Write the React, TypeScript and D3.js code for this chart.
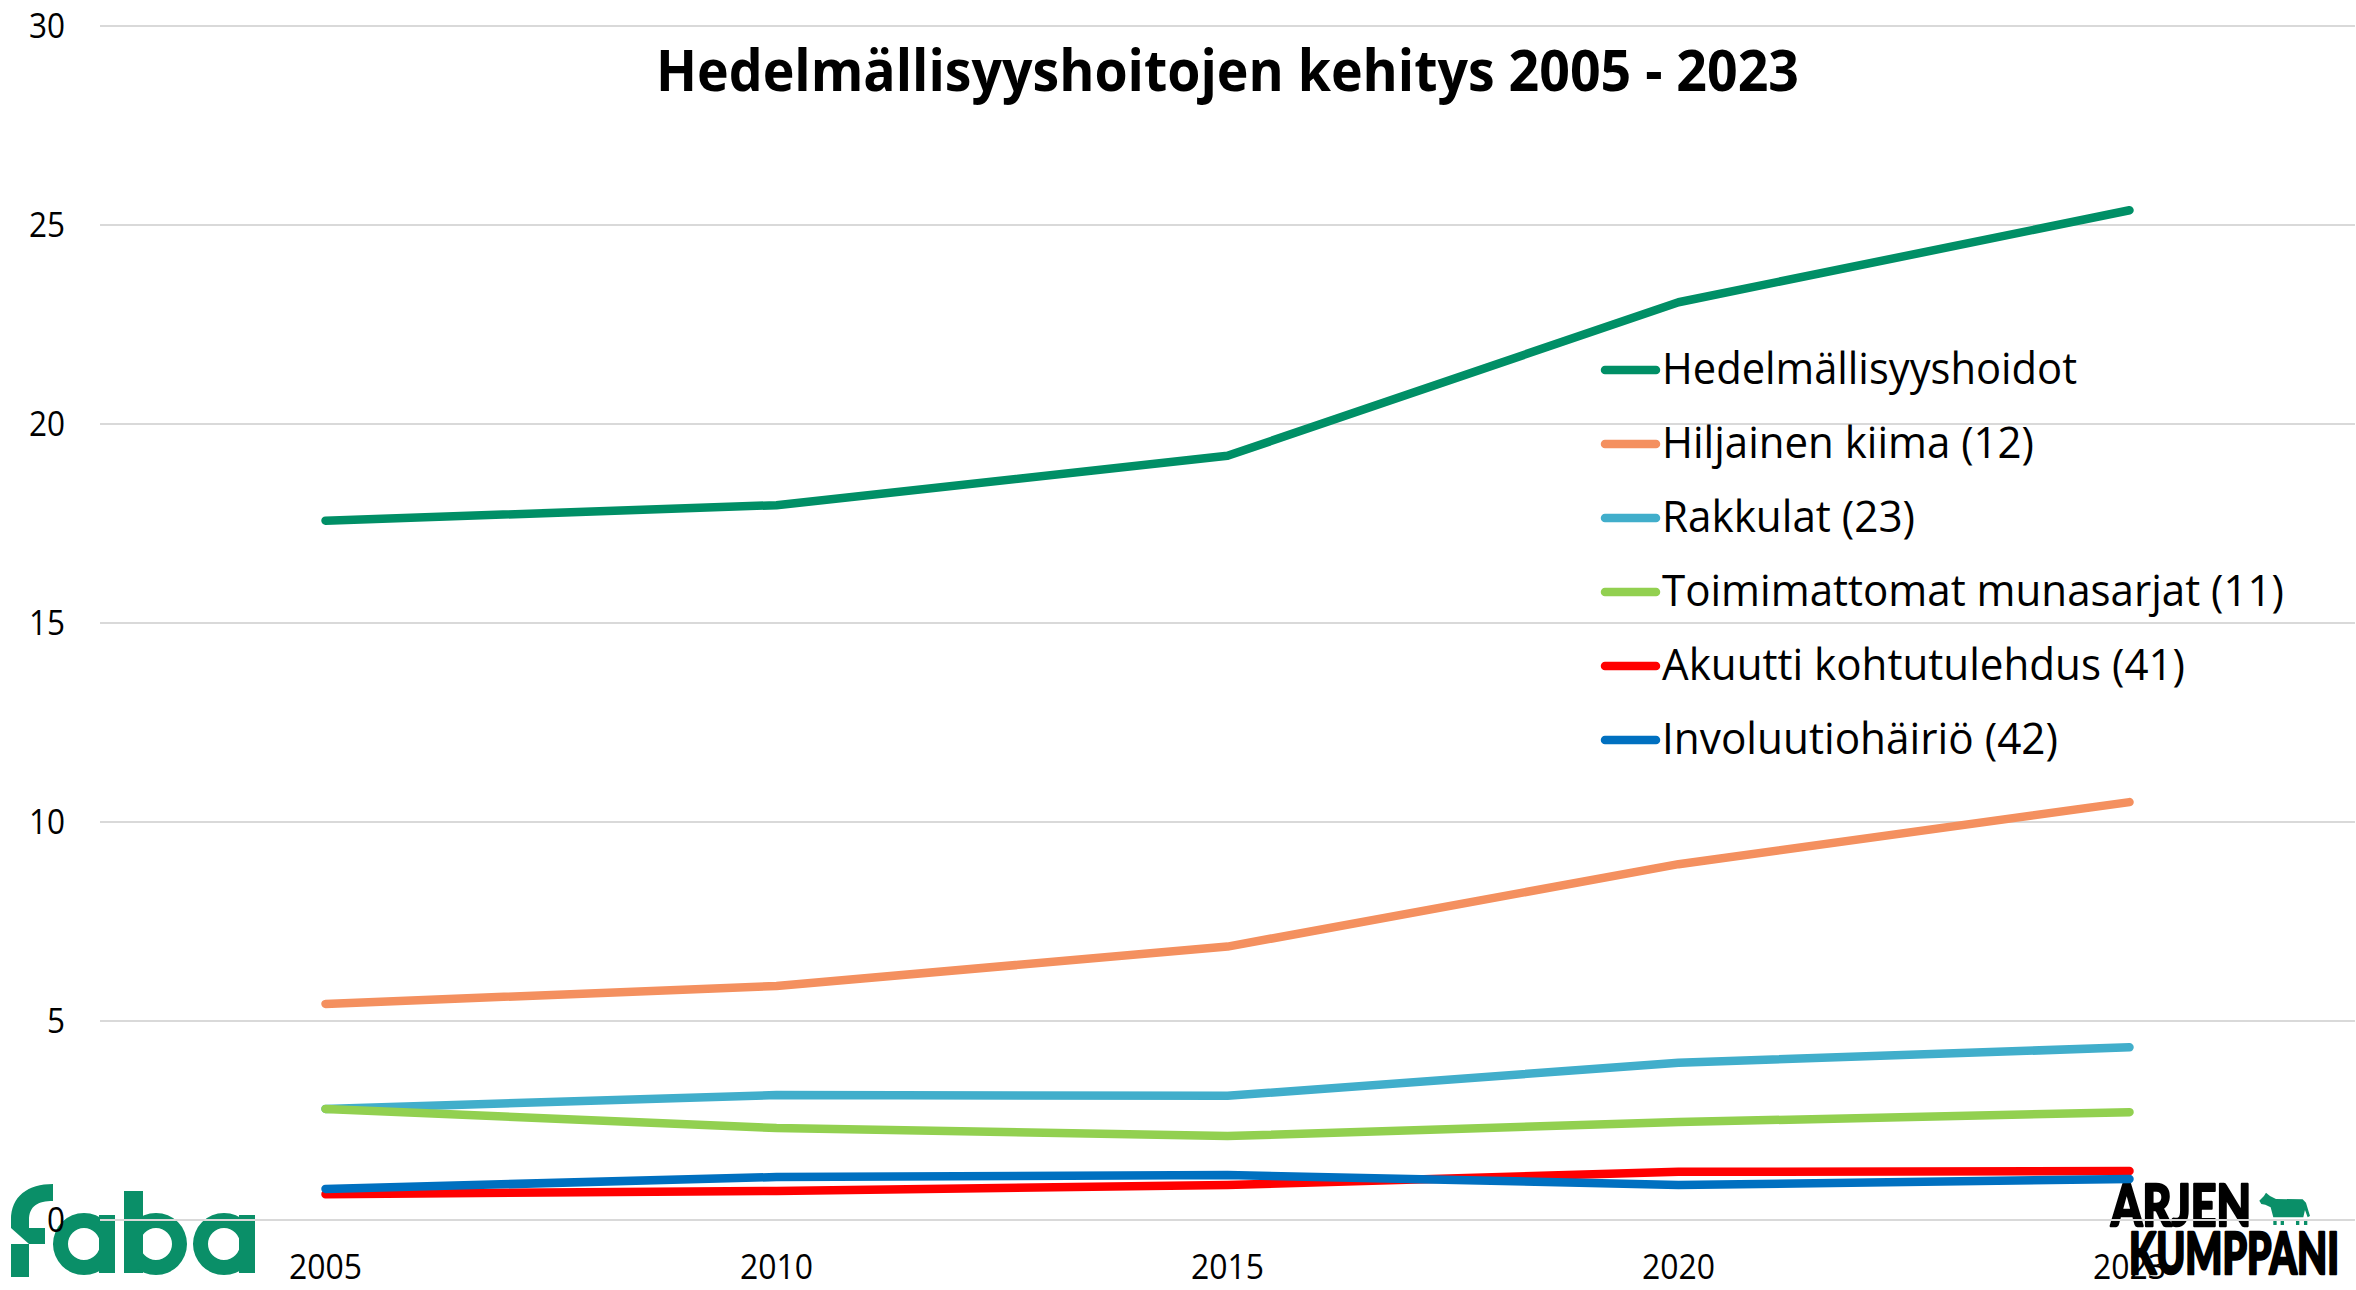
import React from "react";
import * as d3 from "d3";

const years = ["2005", "2010", "2015", "2020", "2023"];
const yTicks = [0, 5, 10, 15, 20, 25, 30];
const hedelmallisyyshoidot = [17.57, 17.96, 19.2, 23.06, 25.37];
const hiljainenKiima = [5.43, 5.88, 6.87, 8.94, 10.5];
const rakkulat = [2.79, 3.14, 3.12, 3.95, 4.34];
const toimimattomat = [2.79, 2.31, 2.11, 2.46, 2.71];
const akuutti = [0.65, 0.73, 0.88, 1.21, 1.23];
const involuutio = [0.78, 1.08, 1.13, 0.88, 1.03];

const seriesList = [
  { name: "Hedelmällisyyshoidot", values: hedelmallisyyshoidot, color: "#008F66", w: 415 },
  { name: "Hiljainen kiima (12)", values: hiljainenKiima, color: "#F4905F", w: 372 },
  { name: "Rakkulat (23)", values: rakkulat, color: "#41AECB", w: 253 },
  { name: "Toimimattomat munasarjat (11)", values: toimimattomat, color: "#92D050", w: 622 },
  { name: "Akuutti kohtutulehdus (41)", values: akuutti, color: "#FF0000", w: 523 },
  { name: "Involuutiohäiriö (42)", values: involuutio, color: "#0070C0", w: 396 },
];

const FONT = "'Open Sans', sans-serif";
const GREEN = "#0A8F68";

const x = d3.scaleBand<string>().domain(years).range([100, 2355]);
const y = d3.scaleLinear().domain([0, 30]).range([1220, 26]);
const line = d3
  .line<number>()
  .x((_, i) => (x(years[i]) as number) + x.bandwidth() / 2)
  .y((d) => y(d));

function Bowl({ cx, stem }: { cx: number; stem: boolean }) {
  const cy = 1244;
  const R = 31;
  const r = 16;
  const d = `M${cx - R},${cy}a${R},${R} 0 1,1 ${2 * R},0a${R},${R} 0 1,1 ${-2 * R},0Z` +
    `M${cx - r},${cy}a${r},${r} 0 1,0 ${2 * r},0a${r},${r} 0 1,0 ${-2 * r},0Z`;
  return (
    <g fill={GREEN}>
      <path d={d} fillRule="evenodd" />
      {stem && <rect x={cx + 15} y={1215} width={16} height={58} />}
    </g>
  );
}

function FabaLogo() {
  return (
    <g>
      <path
        fill={GREEN}
        d="M53,1184 C28,1184 11,1196 11,1220 L11,1228 L29,1244 L45,1244 L45,1228 L29,1228 L29,1220 C29,1206 38,1201 53,1201 Z"
      />
      <rect x={11} y={1244} width={18} height={33} fill={GREEN} />
      <Bowl cx={84} stem />
      <rect x={124} y={1191} width={19} height={82} fill={GREEN} />
      <Bowl cx={156} stem={false} />
      <Bowl cx={224} stem />
    </g>
  );
}

function ArjenLogo() {
  const brush = { stroke: "#000", strokeWidth: 2.5, strokeLinejoin: "round" as const };
  return (
    <g>
      <text x={2111} y={1226} fontFamily="Lato, sans-serif" fontWeight={900} fontSize={57} textLength={140} lengthAdjust="spacingAndGlyphs" fill="#000" {...brush}>ARJEN</text>
      <text x={2129} y={1274} fontFamily="Lato, sans-serif" fontWeight={900} fontSize={57} textLength={210} lengthAdjust="spacingAndGlyphs" fill="#000" {...brush}>KUMPPANI</text>
      <g transform="translate(2040,1130) scale(0.3333)" fill={GREEN}>
        <path d="M658,212 L672,198 L678,188 L690,198 L708,207 L788,208 L798,218 L810,258 L803,262 L795,240 L790,262 L700,262 L692,232 L676,224 L664,222 Z" />
        <rect x={700} y={268} width={10} height={17} />
        <rect x={722} y={268} width={10} height={17} />
        <rect x={768} y={268} width={10} height={17} />
        <rect x={792} y={268} width={10} height={17} />
      </g>
    </g>
  );
}

export default function App() {
  return (
    <svg
      width={2356}
      height={1290}
      style={{ position: "fixed", left: 0, top: 0, background: "#fff" }}
    >
      <FabaLogo />
      <ArjenLogo />
      {yTicks.map((t) => (
        <g key={t}>
          <line x1={100} x2={2355} y1={y(t)} y2={y(t)} stroke="#D9D9D9" strokeWidth={2} />
          <text
            x={65}
            y={y(t) + 12}
            textAnchor="end"
            fontFamily={FONT}
            fontSize={34}
            textLength={String(t).length * 18}
            lengthAdjust="spacingAndGlyphs"
            fill="#000"
          >
            {t}
          </text>
        </g>
      ))}
      {years.map((yr) => (
        <text
          key={yr}
          x={(x(yr) as number) + x.bandwidth() / 2}
          y={1279}
          textAnchor="middle"
          fontFamily={FONT}
          fontSize={34}
          textLength={73}
          lengthAdjust="spacingAndGlyphs"
          fill="#000"
        >
          {yr}
        </text>
      ))}
      {seriesList.map((s) => (
        <path
          key={s.name}
          d={line(s.values) as string}
          fill="none"
          stroke={s.color}
          strokeWidth={8.5}
          strokeLinecap="round"
          strokeLinejoin="round"
        />
      ))}
      <text
        x={656}
        y={91}
        fontFamily={FONT}
        fontWeight={700}
        fontSize={58}
        textLength={1143}
        lengthAdjust="spacingAndGlyphs"
        fill="#000"
      >
        Hedelmällisyyshoitojen kehitys 2005 - 2023
      </text>
      {seriesList.map((s, i) => {
        const cy = 370 + i * 74;
        return (
          <g key={s.name}>
            <line x1={1605} x2={1656} y1={cy} y2={cy} stroke={s.color} strokeWidth={8.5} strokeLinecap="round" />
            <text
              x={1662}
              y={cy + 14}
              fontFamily={FONT}
              fontSize={43}
              textLength={s.w}
              lengthAdjust="spacingAndGlyphs"
              fill="#000"
            >
              {s.name}
            </text>
          </g>
        );
      })}
    </svg>
  );
}
